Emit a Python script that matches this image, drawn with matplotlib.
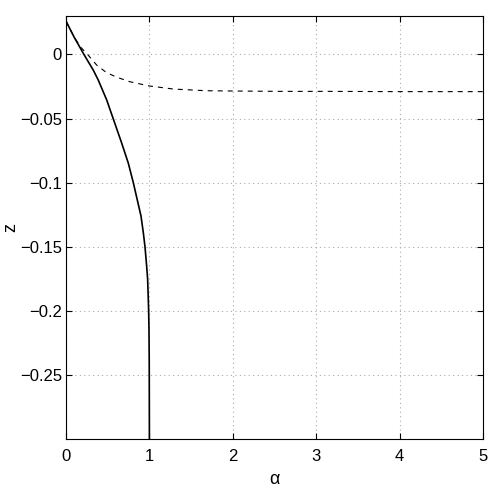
import numpy as np
import matplotlib
matplotlib.use('Agg')
import matplotlib.pyplot as plt

plt.rcParams['font.family'] = ['Liberation Sans', 'DejaVu Sans']

# solid curve
alpha_solid = [0, 0.096, 0.215, 0.327, 0.387, 0.488, 0.668, 0.747, 0.807, 0.899,
               0.927, 0.947, 0.967, 0.979, 0.991, 0.995, 0.998, 1.0]
z_solid = [0.026, 0.0137, 0.0, -0.0122, -0.02, -0.0355, -0.0692, -0.0848, -0.1, -0.126,
           -0.139, -0.15, -0.165, -0.1755, -0.2, -0.2145, -0.24, -0.3]

# dashed curve
alpha_dash = [0, 0.096, 0.18, 0.248, 0.368, 0.488, 0.62, 0.767, 1.0, 1.29, 1.68, 1.97,
              2.57, 3.13, 4, 5]
z_dash = [0.026, 0.0137, 0.0054, 0.0008, -0.0083, -0.0143, -0.018, -0.0213, -0.0246,
          -0.027, -0.0283, -0.0285, -0.0288, -0.0288, -0.029, -0.029]

xticks = [0, 1, 2, 3, 4, 5]
yticks = [0, -0.05, -0.1, -0.15, -0.2, -0.25]
ytick_labels = ['0', '\u22120.05', '\u22120.1', '\u22120.15', '\u22120.2', '\u22120.25']

fig = plt.figure(figsize=(4.91, 4.91), dpi=100)
ax = fig.add_axes([66/491, 52/491, 417/491, 423/491])

ax.plot(alpha_solid, z_solid, color='black', lw=1.2)
ax.plot(alpha_dash, z_dash, color='black', lw=0.8, dashes=(4.5, 4.5))

ax.set_xlim(0, 5)
ax.set_ylim(-0.3, 0.03)
ax.set_xticks(xticks)
ax.set_xticklabels([str(t) for t in xticks])
ax.set_yticks(yticks)
ax.set_yticklabels(ytick_labels)

ax.grid(True, color='#aaaaaa', lw=0.8, dashes=(1, 3))
ax.tick_params(direction='in', top=True, right=True, length=4, width=0.8, labelsize=12)
ax.tick_params(axis='x', pad=7)
ax.tick_params(axis='y', pad=3)
for s in ax.spines.values():
    s.set_linewidth(0.8)

ax.set_xlabel('\u03b1', fontsize=13, labelpad=5)
ax.set_ylabel('z', fontsize=13, labelpad=0)

fig.savefig('out.png', dpi=100)
